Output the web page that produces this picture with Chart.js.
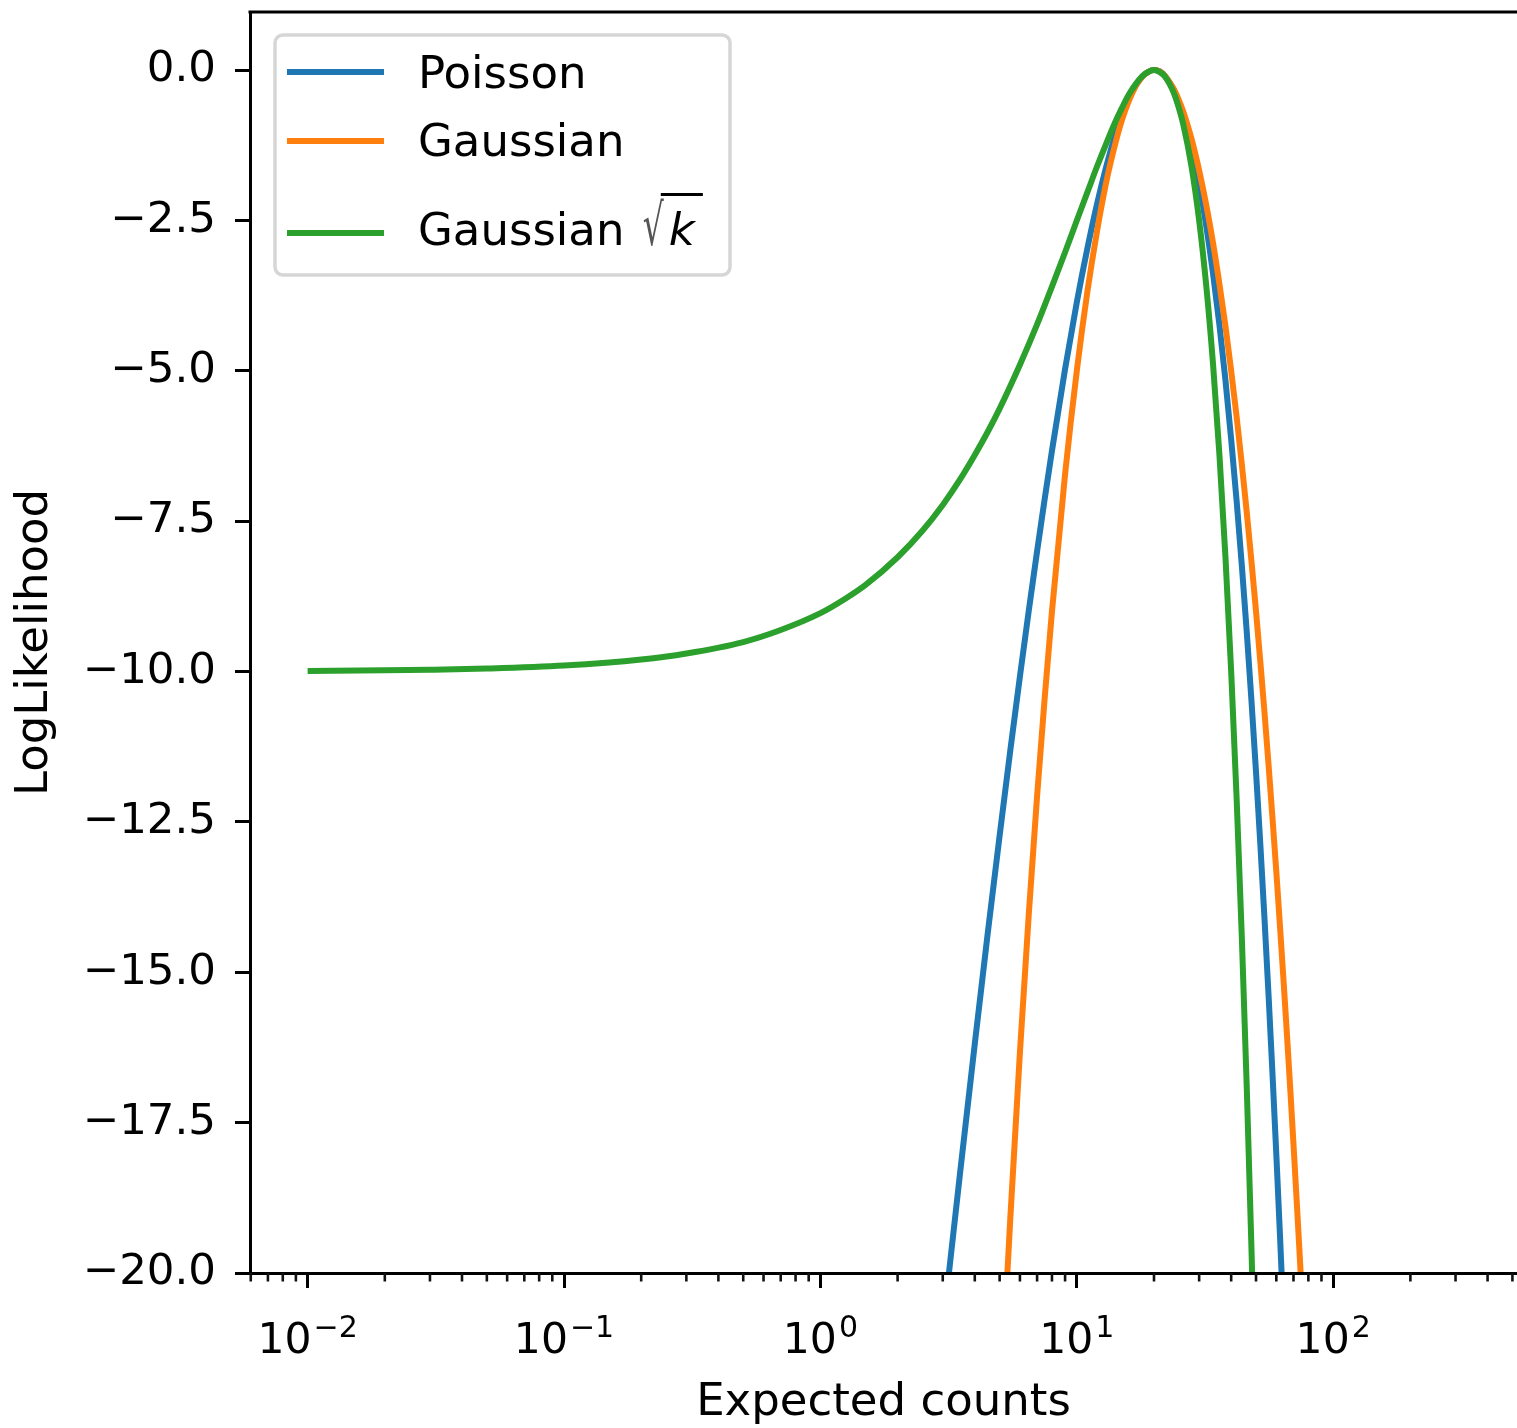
<!DOCTYPE html>
<html>
<head>
<meta charset="utf-8">
<title>LogLikelihood vs expected counts</title>
<script src="https://cdn.jsdelivr.net/npm/chart.js@4.4.1/dist/chart.umd.min.js"></script>
<style>
  html, body { margin: 0; padding: 0; background: #fff; overflow: hidden; }
  #chart { display: block; }
</style>
</head>
<body>
<canvas id="chart" width="1517" height="1428"></canvas>
<script>
// Expected counts (x) and normalised log-likelihood (y)
const poissonX = [3.0, 3.2, 3.5, 4, 4.5, 5, 5.5, 6, 6.5, 7, 7.5, 8,
  9, 10, 11, 12, 13, 14, 15, 16, 17, 18, 19, 20,
  21, 22, 23, 24, 25, 26,
  28, 30, 32, 34, 36, 38, 40, 42, 44, 46, 48, 50, 52, 54, 56, 58, 60, 62, 64, 66];
const poissonY = [-20.94, -19.85, -18.36, -16.19, -14.33, -12.73, -11.32, -10.08, -8.98, -8.00, -7.12, -6.33,
  -4.97, -3.86, -2.96, -2.22, -1.62, -1.13, -0.75, -0.46, -0.25, -0.11, -0.03, 0,
  -0.02, -0.09, -0.21, -0.35, -0.54, -0.75,
  -1.27, -1.89, -2.60, -3.39, -4.24, -5.16, -6.14, -7.16, -8.23, -9.34, -10.49, -11.67, -12.89, -14.14, -15.41, -16.71, -18.03, -19.37, -20.74, -22.12];

const gaussX = [5, 5.25, 5.5, 6, 6.5, 7, 7.5, 8,
  9, 10, 11, 12, 13, 14, 15, 16, 17, 18, 19, 20,
  21, 22, 23, 24, 25, 26,
  28, 30, 32, 34, 36, 38, 40, 42, 44, 46, 48, 50, 52, 54, 56, 58, 60, 62, 64, 66, 68, 70, 72, 74, 76, 78];
const gaussY = [-22.50, -20.72, -19.11, -16.33, -14.02, -12.07, -10.42, -9.00,
  -6.72, -5.00, -3.68, -2.67, -1.88, -1.29, -0.83, -0.50, -0.26, -0.11, -0.03, 0,
  -0.02, -0.09, -0.20, -0.33, -0.50, -0.69,
  -1.14, -1.67, -2.25, -2.88, -3.56, -4.26, -5.00, -5.76, -6.55, -7.35, -8.17, -9.00, -9.85, -10.70, -11.57, -12.45, -13.33, -14.23, -15.13, -16.03, -16.94, -17.86, -18.78, -19.70, -20.63, -21.56];

const sqrtX = [0.01, 0.02, 0.03, 0.05, 0.1, 0.2, 0.3, 0.5, 0.7, 1,
  1.25, 1.5, 2, 2.5, 3, 3.5, 4, 4.5,
  5, 6, 7, 8, 9, 10, 11, 12, 13, 14, 15, 16, 17, 18, 19, 20,
  21, 22, 23, 24, 25, 26,
  28, 30, 32, 34, 36, 38, 40, 42, 44, 46, 48, 50];
const sqrtY = [-9.99, -9.98, -9.97, -9.95, -9.90, -9.80, -9.70, -9.51, -9.31, -9.03,
  -8.79, -8.56, -8.10, -7.66, -7.23, -6.81, -6.40, -6.01,
  -5.63, -4.90, -4.23, -3.60, -3.03, -2.50, -2.03, -1.60, -1.23, -0.90, -0.63, -0.40, -0.23, -0.10, -0.03, 0,
  -0.03, -0.10, -0.23, -0.40, -0.63, -0.90,
  -1.60, -2.50, -3.60, -4.90, -6.40, -8.10, -10.00, -12.10, -14.40, -16.90, -19.60, -22.50];

const seriesLabels = ['Poisson', 'Gaussian', 'Gaussian √k'];
const seriesColors = ['#1f77b4', '#ff7f0e', '#2ca02c'];

// axis ticks
const xTickValues = [0.01, 0.1, 1, 10, 100];
const xTickBase = '10';
const xTickExps = ['−2', '−1', '0', '1', '2'];
const yTickValues = [-20, -17.5, -15, -12.5, -10, -7.5, -5, -2.5, 0];

const xMin = 0.00596, xMax = 521;
const yMin = -20, yMax = 0.965;

const xMinorTicks = [];
for (let e = -3; e <= 2; e++) {
  for (let m = 2; m <= 9; m++) xMinorTicks.push(m * Math.pow(10, e));
}

function toPoints(xs, ys) {
  return xs.map((x, i) => ({x: x, y: ys[i]}));
}

Chart.defaults.font.family = "'DejaVu Sans', sans-serif";
Chart.defaults.color = '#000';

// top spine, minor ticks and 10^n labels on the log axis
const frameAndLogAxis = {
  id: 'frameAndLogAxis',
  afterDraw(chart) {
    const {ctx, chartArea} = chart;
    const xs = chart.scales.x;
    ctx.save();
    ctx.fillStyle = '#000';
    ctx.fillRect(chartArea.left - 1.5, chartArea.top - 1.5, chartArea.right - chartArea.left + 3, 3);

    ctx.strokeStyle = '#111';
    ctx.lineWidth = 2.6;
    xMinorTicks.forEach(v => {
      if (v < xMin || v > xMax) return;
      const px = xs.getPixelForValue(v);
      ctx.beginPath();
      ctx.moveTo(px, chartArea.bottom);
      ctx.lineTo(px, chartArea.bottom + 8.5);
      ctx.stroke();
    });

    ctx.fillStyle = '#000';
    ctx.textAlign = 'left';
    ctx.textBaseline = 'alphabetic';
    xTickValues.forEach((v, i) => {
      const px = xs.getPixelForValue(v);
      ctx.font = "42.5px 'DejaVu Sans'";
      const bw = ctx.measureText(xTickBase).width;
      ctx.font = "30px 'DejaVu Sans'";
      const ew = ctx.measureText(xTickExps[i]).width;
      const start = px - (bw + 2 + ew) / 2;
      ctx.font = "42.5px 'DejaVu Sans'";
      ctx.fillText(xTickBase, start, chartArea.bottom + 80);
      ctx.font = "30px 'DejaVu Sans'";
      ctx.fillText(xTickExps[i], start + bw + 2, chartArea.bottom + 63.5);
    });
    ctx.restore();
  }
};

// matplotlib-like legend in the upper-left corner of the axes
const legendBox = {
  id: 'legendBox',
  afterDraw(chart) {
    const {ctx, chartArea} = chart;
    const x0 = chartArea.left + 25, y0 = chartArea.top + 23;
    ctx.save();
    ctx.beginPath();
    ctx.roundRect(x0, y0, 455, 240, 8);
    ctx.fillStyle = 'rgba(255,255,255,0.8)';
    ctx.fill();
    ctx.lineWidth = 3.5;
    ctx.strokeStyle = '#d6d6d6';
    ctx.stroke();

    const lineY = [37, 106, 198];
    const baseY = [53, 121, 210];
    ctx.textBaseline = 'alphabetic';
    ctx.textAlign = 'left';
    chart.data.datasets.forEach((ds, i) => {
      ctx.strokeStyle = ds.borderColor;
      ctx.lineWidth = 6;
      ctx.beginPath();
      ctx.moveTo(x0 + 12, y0 + lineY[i]);
      ctx.lineTo(x0 + 109, y0 + lineY[i]);
      ctx.stroke();

      ctx.fillStyle = '#000';
      ctx.font = "45px 'DejaVu Sans'";
      const tx = x0 + 143, ty = y0 + baseY[i];
      if (ds.label.indexOf('√') < 0) {
        ctx.fillText(ds.label, tx, ty);
      } else {
        const parts = ds.label.split('√');
        ctx.fillText(parts[0], tx, ty);
        const rx = tx + ctx.measureText(parts[0]).width + 4;
        // radical sign, stretched to cover the argument
        ctx.save();
        ctx.translate(rx, ty);
        ctx.scale(0.75, 1.3);
        ctx.font = "44px 'DejaVu Sans'";
        ctx.fillStyle = '#555';
        ctx.fillText('√', 0, 0);
        const rw = ctx.measureText('√').width * 0.75;
        ctx.restore();
        ctx.font = "italic 45px 'DejaVu Sans'";
        ctx.fillText(parts[1], rx + rw + 5, ty);
        const kw = ctx.measureText(parts[1]).width;
        ctx.fillRect(rx + rw - 3, ty - 52, kw + 16, 3);
      }
    });
    ctx.restore();
  }
};

const ctx = document.getElementById('chart').getContext('2d');
new Chart(ctx, {
  type: 'line',
  data: {
    datasets: [
      {label: seriesLabels[0], data: toPoints(poissonX, poissonY), borderColor: seriesColors[0], order: 3},
      {label: seriesLabels[1], data: toPoints(gaussX, gaussY), borderColor: seriesColors[1], order: 2},
      {label: seriesLabels[2], data: toPoints(sqrtX, sqrtY), borderColor: seriesColors[2], order: 1}
    ].map(ds => Object.assign(ds, {
      borderWidth: 6,
      pointRadius: 0,
      fill: false,
      cubicInterpolationMode: 'monotone',
      clip: 0
    }))
  },
  options: {
    responsive: false,
    animation: false,
    devicePixelRatio: 1,
    events: [],
    layout: {padding: {top: 12, right: 0, bottom: 0, left: 0}},
    plugins: {
      legend: {display: false},
      tooltip: {enabled: false}
    },
    scales: {
      x: {
        type: 'logarithmic',
        position: 'bottom',
        min: xMin,
        max: xMax,
        afterBuildTicks: axis => { axis.ticks = xTickValues.map(v => ({value: v})); },
        afterFit: axis => {
          axis.height = 155;
          axis.paddingLeft = 0;
          axis.paddingRight = 0;
        },
        grid: {drawOnChartArea: false, tickLength: 15, tickWidth: 3, tickColor: '#000'},
        border: {display: true, color: '#000', width: 3, z: 1},
        ticks: {display: false, autoSkip: false, maxRotation: 0},
        title: {display: true, text: 'Expected counts', color: '#000', font: {size: 45, lineHeight: 1.15}, padding: {top: 0, bottom: -1}}
      },
      y: {
        min: yMin,
        max: yMax,
        afterBuildTicks: axis => { axis.ticks = yTickValues.map(v => ({value: v})); },
        afterFit: axis => {
          axis.width = 250;
          axis.paddingTop = 0;
          axis.paddingBottom = 0;
        },
        grid: {drawOnChartArea: false, tickLength: 15, tickWidth: 3, tickColor: '#000'},
        border: {display: true, color: '#000', width: 3, z: 1},
        ticks: {
          padding: 19,
          color: '#000',
          font: {size: 43.5},
          callback: value => value.toFixed(1).replace('-', '\u2212')
        },
        title: {display: true, text: 'LogLikelihood', color: '#000', font: {size: 45, lineHeight: 1.15}, padding: {top: 9, bottom: 0}}
      }
    }
  },
  plugins: [frameAndLogAxis, legendBox]
});
</script>
</body>
</html>
